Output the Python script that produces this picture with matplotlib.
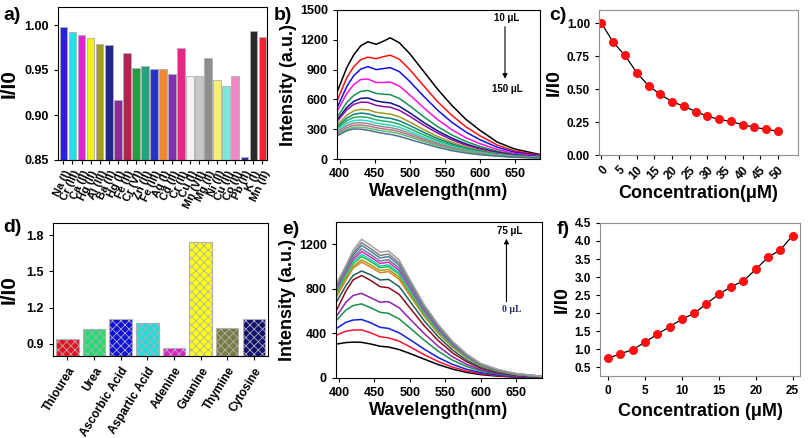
import matplotlib.pyplot as plt
import numpy as np

plt.rcParams['font.family'] = ['Liberation Sans', 'DejaVu Sans']
plt.rcParams['font.weight'] = 'bold'
plt.rcParams['axes.labelweight'] = 'bold'
plt.rcParams['hatch.linewidth'] = 0.6
plt.rcParams['xtick.major.size'] = 3
plt.rcParams['ytick.major.size'] = 3

# a) selectivity, metal ions
ions = ['Na (I)', 'Cr (III)', 'Ca (II)', 'Hg (II)', 'Al (III)', 'Ba (II)', 'Hg (I)', 'Fe (II)',
        'Cr (VI)', 'Zn (II)', 'Fe (III)', 'Ag (I)', 'Cd (II)', 'Cr (II)', 'Cu (I)', 'Mn (VII)',
        'Mg (II)', 'Ni (II)', 'Cu (II)', 'Co (II)', 'Pb (II)', 'K (I)', 'Mn (II)']
ion_ratio = [0.9974, 0.992, 0.9886, 0.9853, 0.979, 0.9783, 0.9164, 0.9687,
             0.9517, 0.9547, 0.9514, 0.9506, 0.9455, 0.975, 0.943, 0.943,
             0.9628, 0.9388, 0.9326, 0.9436, 0.853, 0.9937, 0.9867]
ion_colors = ['#2525d5', '#25e0e0', '#e025d0', '#f0ee25', '#a39b25', '#25258f', '#8c2a9c', '#b0244f',
              '#22a040', '#22a37c', '#2534c4', '#f08a30', '#8030b0', '#f02288', '#f2f2f2', '#c8c8c8',
              '#8e8e8e', '#f6ef70', '#80e6dc', '#f088c4', '#30309a', '#2a2a2a', '#f02235']

# b) quenching spectra, 10-150 uL
wl_b = [397, 410, 420, 430, 440, 452, 462, 472, 485, 500, 520, 540, 560, 580, 600, 625, 650, 686]
spec_b = [
    [690, 920, 1050, 1140, 1180, 1155, 1185, 1220, 1170, 1060, 880, 700, 540, 400, 290, 170, 100, 45],
    [600, 820, 930, 1000, 1025, 1010, 1030, 1045, 1005, 900, 735, 575, 440, 325, 235, 140, 80, 38],
    [530, 730, 840, 905, 930, 900, 910, 920, 880, 780, 630, 490, 370, 272, 195, 118, 68, 33],
    [490, 660, 750, 800, 805, 770, 770, 775, 735, 645, 515, 395, 295, 215, 155, 95, 55, 28],
    [430, 570, 640, 680, 690, 660, 652, 648, 610, 535, 425, 325, 242, 177, 127, 78, 45, 24],
    [400, 520, 580, 610, 615, 585, 572, 565, 530, 465, 368, 282, 210, 152, 108, 67, 40, 21],
    [385, 495, 550, 572, 570, 540, 528, 522, 490, 430, 340, 260, 193, 140, 100, 62, 37, 20],
    [350, 440, 485, 500, 495, 470, 460, 452, 425, 372, 295, 226, 168, 122, 87, 54, 32, 17],
    [330, 410, 450, 462, 455, 430, 418, 410, 385, 337, 268, 205, 152, 110, 79, 49, 29, 16],
    [312, 385, 418, 425, 418, 394, 382, 374, 350, 306, 243, 186, 138, 100, 72, 45, 27, 15],
    [295, 360, 387, 392, 384, 362, 350, 342, 320, 280, 222, 170, 126, 91, 66, 41, 25, 14],
    [278, 338, 362, 365, 357, 337, 325, 317, 296, 259, 205, 157, 116, 84, 61, 38, 23, 13],
    [262, 318, 340, 342, 334, 315, 303, 295, 275, 240, 190, 146, 108, 78, 56, 35, 21, 12],
    [248, 300, 320, 320, 312, 294, 282, 273, 254, 222, 176, 134, 99, 72, 52, 32, 19, 11],
    [235, 285, 303, 300, 290, 272, 258, 248, 228, 196, 156, 117, 84, 60, 43, 28, 18, 10],
]
colors_b = ['black', '#ff1010', '#1010e0', '#ff10e0', '#159050', '#10108a', '#8a10a0', '#a09a20',
            '#108080', '#20b060', '#30d8c8', '#909090', '#c07090', '#60c070', '#507090']

# c) I/I0 vs concentration (quenching)
conc_c = [0, 3.33, 6.67, 10, 13.33, 16.67, 20, 23.33, 26.67, 30, 33.33, 36.67, 40, 43.33, 46.67, 50]
ratio_c = [1.00, 0.855, 0.755, 0.625, 0.525, 0.46, 0.405, 0.37, 0.33, 0.295, 0.27, 0.255, 0.23, 0.21, 0.195, 0.18]

# d) selectivity, biomolecules
molecules = ['Thiourea', 'Urea', 'Ascorbic Acid', 'Aspartic Acid', 'Adenine', 'Guanine', 'Thymine', 'Cytosine']
mol_ratio = [0.94, 1.02, 1.105, 1.07, 0.865, 1.745, 1.03, 1.11]
mol_colors = ['#e81020', '#20dd70', '#1010dd', '#20dddd', '#dd20cc', '#ffff10', '#7a7a44', '#101070']

# e) enhancement spectra, 0-75 uL
wl_e = [397, 410, 420, 432, 445, 458, 470, 485, 500, 520, 540, 560, 580, 600, 625, 650, 686]
spec_e = [
    [305, 318, 322, 320, 305, 285, 278, 255, 220, 170, 120, 80, 50, 30, 16, 8, 3],
    [385, 420, 430, 432, 405, 370, 360, 330, 280, 210, 148, 98, 62, 38, 20, 10, 4],
    [446, 500, 520, 525, 495, 455, 445, 405, 345, 260, 183, 122, 78, 47, 25, 13, 5],
    [520, 610, 650, 665, 630, 590, 580, 530, 450, 340, 240, 160, 103, 62, 33, 17, 6],
    [557, 680, 740, 760, 720, 680, 685, 630, 530, 400, 285, 190, 122, 73, 40, 20, 7],
    [611, 780, 880, 920, 875, 820, 810, 750, 630, 470, 335, 225, 145, 87, 48, 24, 9],
    [686, 830, 920, 960, 925, 880, 885, 820, 690, 515, 370, 250, 160, 96, 53, 27, 10],
    [731, 880, 985, 1040, 995, 945, 955, 885, 740, 555, 400, 275, 180, 108, 60, 31, 12],
    [750, 900, 1000, 1060, 1015, 965, 975, 905, 755, 565, 408, 280, 183, 110, 62, 32, 12],
    [770, 925, 1025, 1090, 1045, 990, 1000, 930, 775, 580, 420, 290, 189, 114, 64, 33, 13],
    [790, 940, 1045, 1110, 1062, 1005, 1015, 945, 790, 590, 428, 295, 193, 116, 65, 34, 13],
    [800, 955, 1065, 1135, 1085, 1028, 1040, 966, 808, 603, 437, 301, 197, 118, 67, 35, 14],
    [815, 970, 1085, 1160, 1108, 1050, 1062, 987, 825, 616, 447, 308, 201, 121, 68, 36, 14],
    [830, 990, 1105, 1190, 1136, 1077, 1090, 1012, 846, 632, 458, 315, 206, 124, 70, 37, 14],
    [840, 1000, 1120, 1215, 1160, 1100, 1112, 1033, 864, 645, 468, 322, 210, 126, 72, 38, 15],
    [851, 1010, 1145, 1245, 1190, 1128, 1140, 1058, 884, 660, 480, 330, 215, 130, 75, 40, 15],
]
colors_e = ['black', '#ff1030', '#1020e0', '#189048', '#9020b0', '#900a20', '#1a6060', '#e08020',
            '#a0a020', '#20c040', '#20d0c0', '#e020c0', '#708090', '#5080a0', '#808080', '#a0a0a0']

# f) I/I0 vs concentration (enhancement)
conc_f = [0, 1.67, 3.33, 5, 6.67, 8.33, 10, 11.67, 13.33, 15, 16.67, 18.33, 20, 21.67, 23.33, 25]
ratio_f = [0.74, 0.87, 0.98, 1.19, 1.41, 1.62, 1.83, 1.99, 2.26, 2.52, 2.73, 2.89, 3.21, 3.55, 3.75, 4.15]


fig = plt.figure(figsize=(8.1, 4.38), dpi=100)
W, H = 810, 438


def box(l, t, r, b):
    return fig.add_axes([l / W, 1 - b / H, (r - l) / W, (b - t) / H])


# a)
ax = box(58, 7, 267, 160)
x = np.arange(len(ions))
ax.bar(x, ion_ratio, width=0.85, color=ion_colors, edgecolor='#b0b0b0', linewidth=0.6)
ax.set_ylim(0.85, 1.02)
ax.set_xlim(-0.6, 22.5)
ax.set_yticks([0.85, 0.90, 0.95, 1.00])
ax.set_xticks(x)
ax.set_xticklabels(ions, rotation=65, ha='right', rotation_mode='anchor', fontsize=8)
ax.tick_params(axis='y', labelsize=9)
ax.set_ylabel('I/I0', fontsize=15, labelpad=4)

# b)
ax = box(337, 10, 540, 159)
for vals, c in zip(spec_b, colors_b):
    ax.plot(wl_b, vals, color=c, lw=1.1)
ax.set_xlim(396, 686)
ax.set_ylim(0, 1500)
ax.set_xticks([400, 450, 500, 550, 600, 650])
ax.set_yticks([0, 300, 600, 900, 1200, 1500])
ax.tick_params(labelsize=9)
ax.set_xlabel('Wavelength(nm)', fontsize=13, labelpad=2)
ax.set_ylabel('Intensity (a.u.)', fontsize=13, labelpad=2)
ax.annotate('', xy=(636, 780), xytext=(636, 1360),
            arrowprops=dict(arrowstyle='-|>', color='black', lw=0.8, mutation_scale=7))
ax.text(638, 1420, '10 μL', fontsize=7, ha='center', va='center')
ax.text(640, 700, '150 μL', fontsize=7, ha='center', va='center')

# c)
ax = box(599, 10, 798, 155)
ax.plot(conc_c, ratio_c, color='black', lw=0.9, marker='o', markersize=5.5,
        markerfacecolor='#ff1010', markeredgecolor='#ff1010')
ax.set_xlim(-0.7, 55.7)
ax.set_ylim(0, 1.1)
ax.set_xticks(range(0, 51, 5))
ax.set_yticks([0, 0.25, 0.5, 0.75, 1.0])
ax.set_yticklabels(['0.00', '0.25', '0.50', '0.75', '1.00'])
ax.tick_params(labelsize=8.5)
plt.setp(ax.get_xticklabels(), rotation=45, ha='right', rotation_mode='anchor')
for s in ax.spines.values():
    s.set_color('#909090')
ax.set_xlabel('Concentration(μM)', fontsize=13, labelpad=2)
ax.set_ylabel('I/I0', fontsize=14, labelpad=3)

# d)
ax = box(53, 223, 268, 356)
x = np.arange(len(molecules))
ax.bar(x, mol_ratio, width=0.84, color=mol_colors, edgecolor='#b0b0b0', linewidth=0.8, hatch='xxxx')
ax.set_ylim(0.8, 1.9)
ax.set_xlim(-0.54, 7.53)
ax.set_yticks([0.9, 1.2, 1.5, 1.8])
ax.set_xticks(x)
ax.set_xticklabels(molecules, rotation=58, ha='right', rotation_mode='anchor', fontsize=8.5)
ax.tick_params(axis='y', labelsize=9)
ax.set_ylabel('I/I0', fontsize=15, labelpad=6)

# e)
ax = box(336, 222, 542, 378)
for vals, c in zip(spec_e, colors_e):
    ax.plot(wl_e, vals, color=c, lw=1.1)
ax.set_xlim(396, 686)
ax.set_ylim(0, 1400)
ax.set_xticks([400, 450, 500, 550, 600, 650])
ax.set_yticks([0, 400, 800, 1200])
ax.tick_params(labelsize=9)
ax.set_xlabel('Wavelength(nm)', fontsize=13, labelpad=2)
ax.set_ylabel('Intensity (a.u.)', fontsize=13, labelpad=2)
ax.annotate('', xy=(636, 1275), xytext=(636, 660),
            arrowprops=dict(arrowstyle='-|>', color='black', lw=0.8, mutation_scale=7))
ax.text(640, 1320, '75 μL', fontsize=7, ha='center', va='center')
ax.text(643, 615, '0 μL', fontsize=7, ha='center', va='center', color='#303070',
        family=['Liberation Serif', 'DejaVu Serif'])

# f)
ax = box(600, 223, 800, 376)
ax.plot(conc_f, ratio_f, color='black', lw=0.9, marker='o', markersize=5.5,
        markerfacecolor='#ff1010', markeredgecolor='#ff1010')
ax.set_xlim(-1.1, 26)
ax.set_ylim(0.25, 4.5)
ax.set_xticks(range(0, 26, 5))
ax.set_yticks(np.arange(0.5, 4.6, 0.5))
ax.tick_params(labelsize=8.5)
for s in ax.spines.values():
    s.set_color('#909090')
ax.set_xlabel('Concentration (μM)', fontsize=13, labelpad=4)
ax.set_ylabel('I/I0', fontsize=14, labelpad=3)

# panel letters
for lab, px, py in [('a)', 3, 16), ('b)', 274, 16), ('c)', 549, 16),
                    ('d)', 3, 228), ('e)', 282, 230), ('f)', 557, 230)]:
    fig.text(px / W, 1 - py / H, lab, fontsize=14, fontweight='bold', va='center')

fig.savefig('out.png', dpi=100)
